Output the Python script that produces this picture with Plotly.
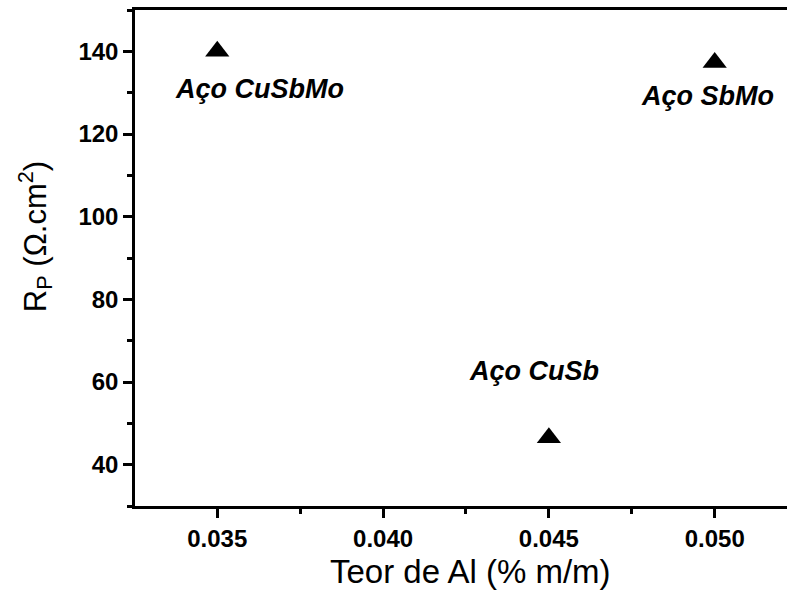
import plotly.graph_objects as go

al_content = [0.035, 0.050, 0.045]
rp_values = [140.0, 137.3, 46.5]
sample_names = ["Aço CuSbMo", "Aço SbMo", "Aço CuSb"]

x_title = "Teor de Al (% m/m)"
y_title = "R<sub>P</sub> (Ω.cm<sup>2</sup>)"

# label offsets in pixels (style, not data)
label_shift = [(42, -38), (-7, -34), (-15, 67)]

fig = go.Figure()
fig.add_trace(go.Scatter(
    x=al_content, y=rp_values, mode="markers",
    marker=dict(symbol="triangle-up", size=21, color="black"),
    showlegend=False, hoverinfo="x+y"))

for xv, yv, name, (dx, dy) in zip(al_content, rp_values, sample_names, label_shift):
    fig.add_annotation(x=xv, y=yv, text=f"<b><i>{name}</i></b>", showarrow=False,
                       xshift=dx, yshift=dy,
                       font=dict(family="Liberation Sans, Arial", size=27, color="black"))

# axis titles as annotations for precise placement
fig.add_annotation(xref="paper", yref="paper", x=0.515, y=0, yanchor="middle",
                   yshift=-65, text=x_title, showarrow=False,
                   font=dict(family="Liberation Sans, Arial", size=33, color="black"))
fig.add_annotation(xref="paper", yref="paper", x=0, y=0.542, xanchor="center",
                   xshift=-100, text=y_title, textangle=-90, showarrow=False,
                   font=dict(family="Liberation Sans, Arial", size=31, color="black"))

fig.update_layout(
    width=787, height=591,
    margin=dict(l=135, r=0, t=10, b=85),
    paper_bgcolor="white", plot_bgcolor="white",
    font=dict(family="Liberation Sans, Arial", color="black"),
    xaxis=dict(
        range=[0.03252, 0.05218],
        tickvals=[0.035, 0.040, 0.045, 0.050],
        ticktext=["<b>0.035</b>", "<b>0.040</b>", "<b>0.045</b>", "<b>0.050</b>"],
        ticks="outside", ticklen=9, tickwidth=2.5, tickcolor="black",
        minor=dict(ticks="outside", ticklen=5, tickwidth=2.5, tickcolor="black", dtick=0.0025, tick0=0.0325),
        showline=True, linewidth=2.5, linecolor="black", mirror=True,
        showgrid=False, zeroline=False,
        tickfont=dict(size=24, color="black"),
    ),
    yaxis=dict(
        range=[30, 150],
        tickvals=[40, 60, 80, 100, 120, 140],
        ticktext=["<b>40</b>", "<b>60</b>", "<b>80</b>", "<b>100</b>", "<b>120</b>", "<b>140</b>"],
        ticks="outside", ticklen=9, tickwidth=2.5, tickcolor="black",
        minor=dict(ticks="outside", ticklen=5, tickwidth=2.5, tickcolor="black", dtick=10, tick0=30),
        showline=True, linewidth=2.5, linecolor="black",
        showgrid=False, zeroline=False,
        tickfont=dict(size=24, color="black"),
    ),
)

fig.write_html("out.html")
